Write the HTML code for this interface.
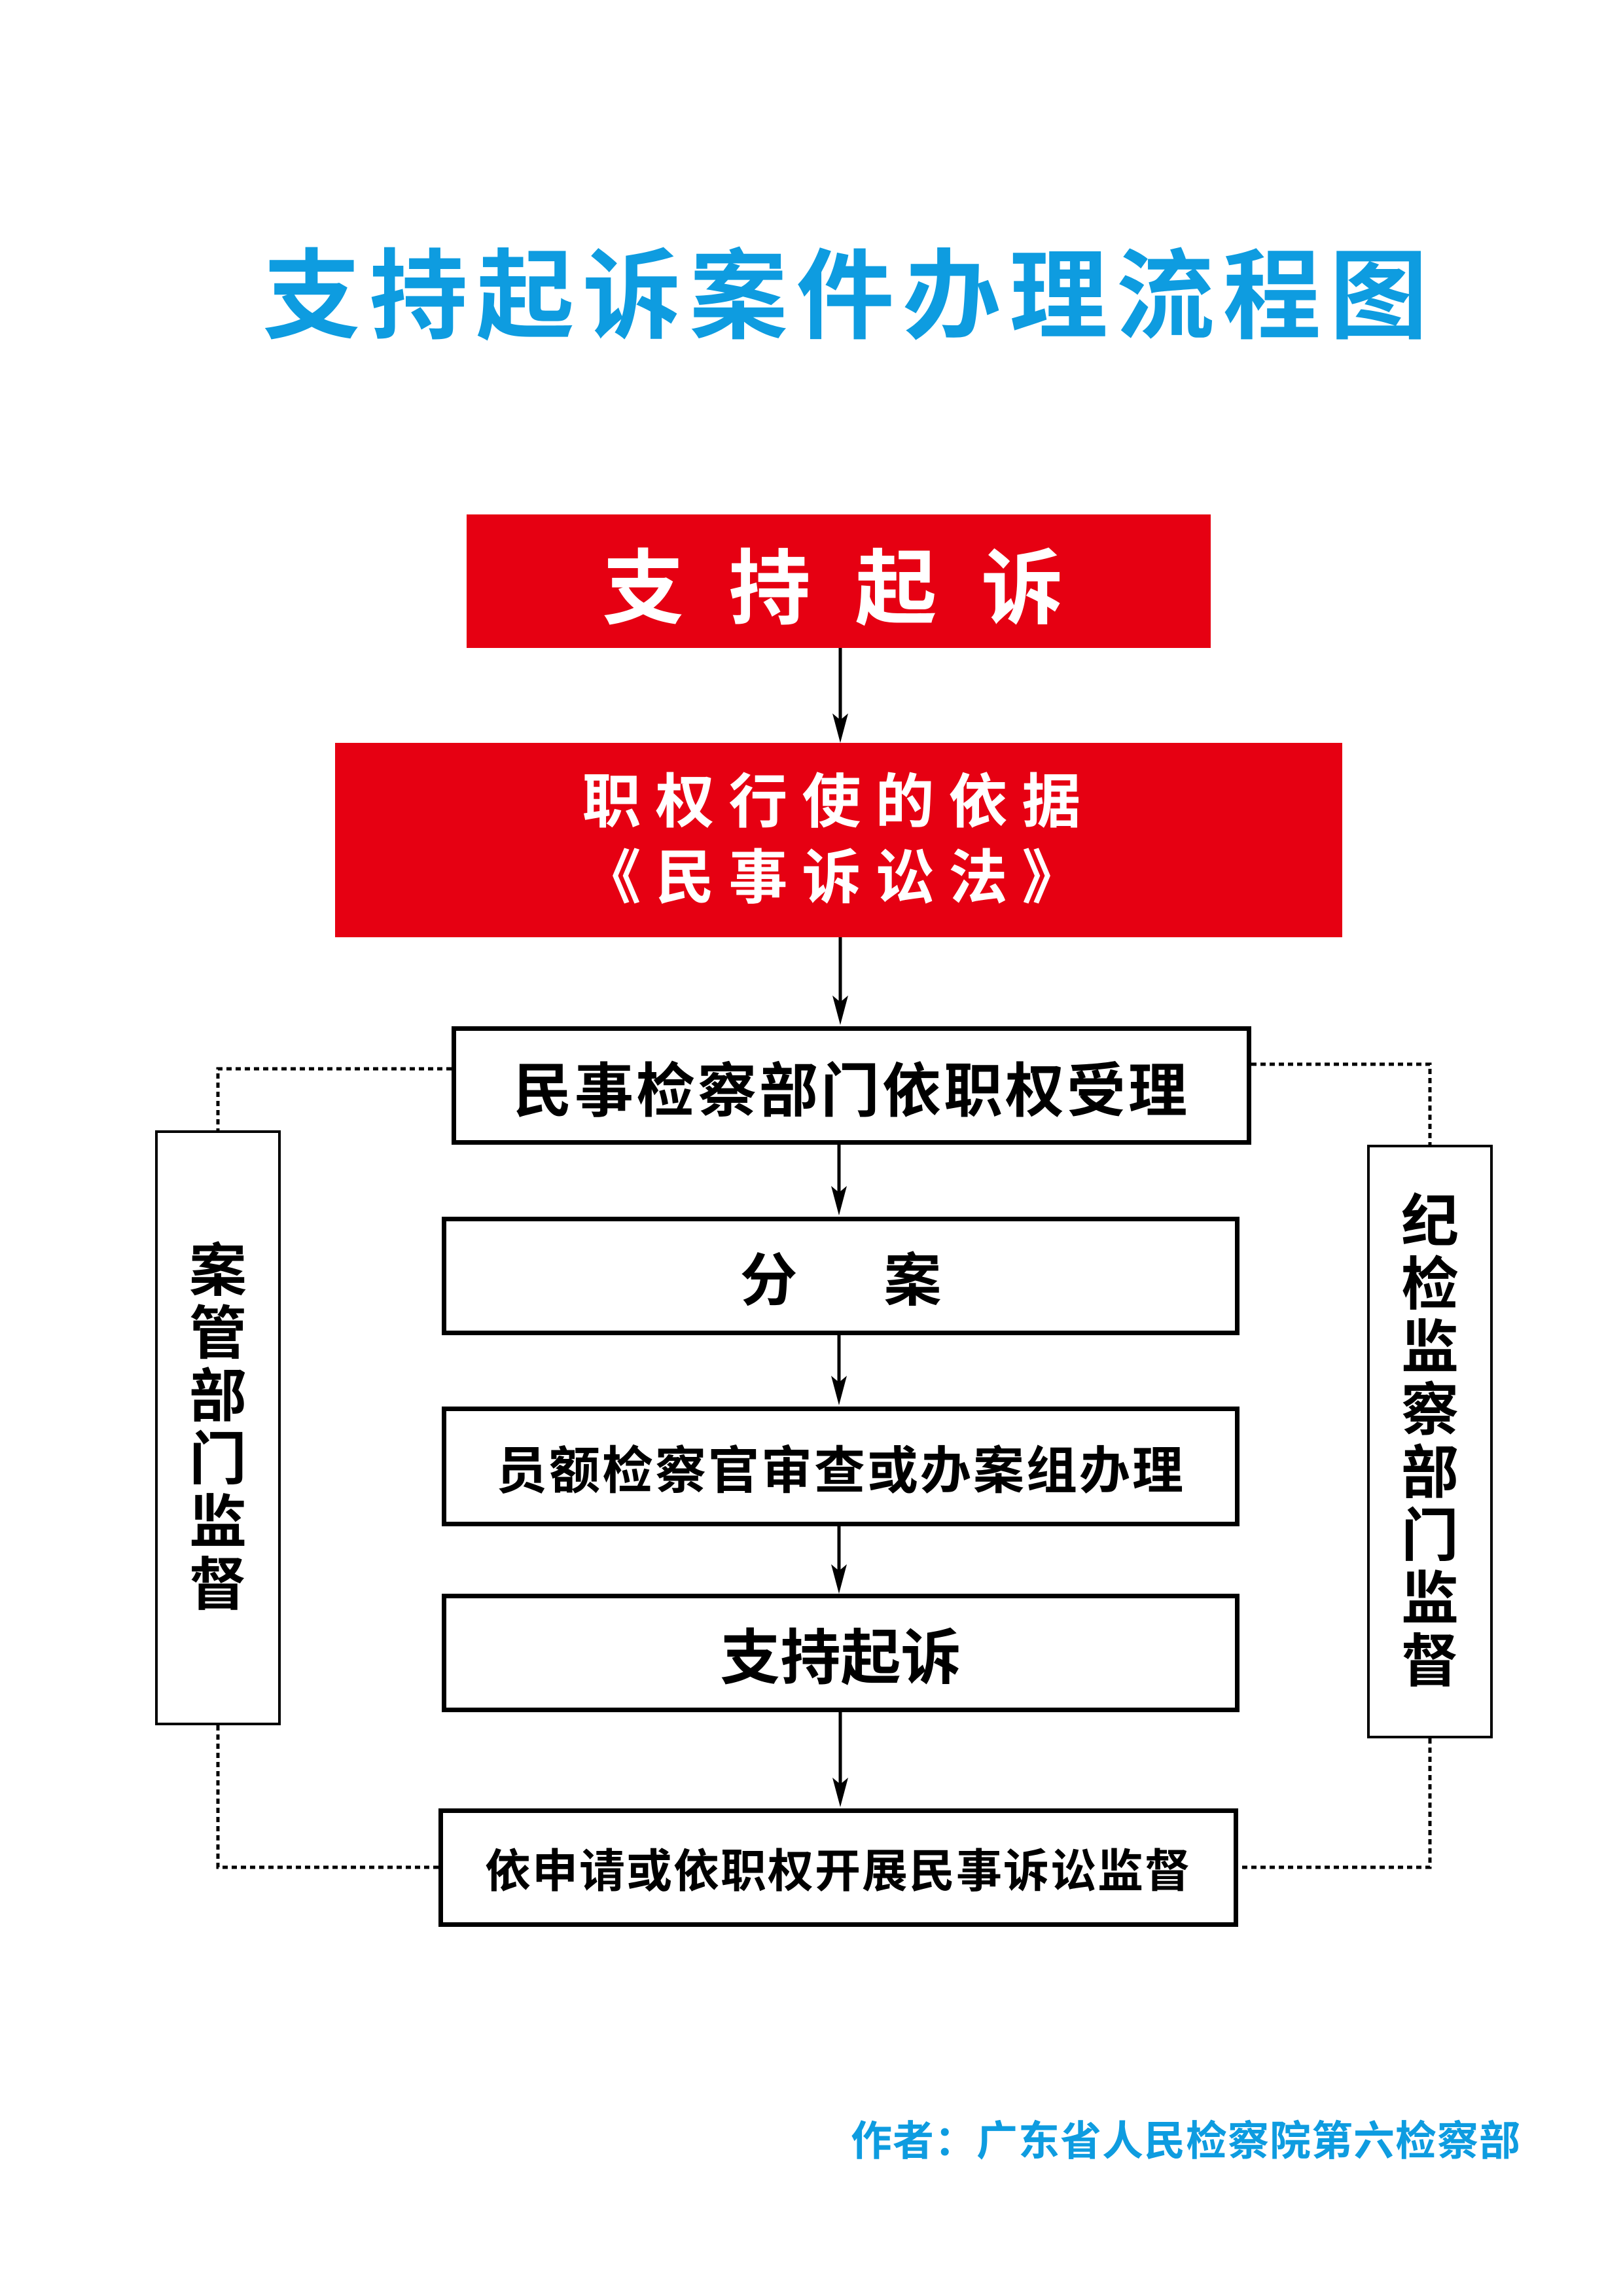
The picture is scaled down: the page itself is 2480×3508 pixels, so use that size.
<!DOCTYPE html>
<html><head><meta charset="utf-8"><style>
html,body{margin:0;padding:0;background:#fff}
body{width:2480px;height:3508px;position:relative;overflow:hidden;font-family:"Liberation Sans","Noto Sans CJK SC",sans-serif;font-weight:bold}
.a{position:absolute;box-sizing:border-box;display:flex;align-items:center;justify-content:center;text-align:center;white-space:nowrap}
.red{background:#e60012;color:#fff}
.bx{border:7px solid #000;background:#fff;color:#000}
.vb{border:4px solid #000;background:#fff;color:#000;flex-direction:column;justify-content:center}
</style></head><body>
<svg width="2480" height="3508" style="position:absolute;left:0;top:0">
<g stroke="#000" stroke-width="5" fill="none">
<line x1="1284" y1="990" x2="1284" y2="1110"/>
<line x1="1284" y1="1432" x2="1284" y2="1540"/>
<line x1="1282" y1="1749" x2="1282" y2="1830"/>
<line x1="1282" y1="2040" x2="1282" y2="2120"/>
<line x1="1282" y1="2332" x2="1282" y2="2410"/>
<line x1="1284" y1="2616" x2="1284" y2="2735"/>
</g>
<g fill="#000">
<path d="M1272,1090 L1284,1100 L1296,1090 L1284,1135 Z"/>
<path d="M1272,1521 L1284,1531 L1296,1521 L1284,1566 Z"/>
<path d="M1270,1812 L1282,1822 L1294,1812 L1282,1857 Z"/>
<path d="M1270,2102 L1282,2112 L1294,2102 L1282,2147 Z"/>
<path d="M1270,2390 L1282,2400 L1294,2390 L1282,2435 Z"/>
<path d="M1272,2716 L1284,2726 L1296,2716 L1284,2761 Z"/>
</g>
<g stroke="#000" stroke-width="5" fill="none" stroke-dasharray="8,6">
<polyline points="690,1633 333,1633 333,1727"/>
<polyline points="333,2636 333,2853 670,2853"/>
<polyline points="1912,1626 2185,1626 2185,1749"/>
<polyline points="2185,2656 2185,2853 1892,2853"/>
</g>
</svg>
<div class="a" style="left:398px;top:360px;width:1800px;height:160px;color:#0e9ce0;font-size:150px;letter-spacing:13px">支持起诉案件办理流程图</div>
<div class="a red" style="left:713px;top:786px;width:1137px;height:204px;font-size:125px;letter-spacing:68px;padding-left:50px">支持起诉</div>
<div class="a red" style="left:512px;top:1135px;width:1539px;height:297px;font-size:90px;letter-spacing:22px;line-height:116px;flex-direction:column">
<div>职权行使的依据</div><div>《民事诉讼法》</div></div>
<div class="a bx" style="left:690px;top:1568px;width:1222px;height:181px;font-size:90px;letter-spacing:4px">民事检察部门依职权受理</div>
<div class="a bx" style="left:675px;top:1859px;width:1219px;height:181px;font-size:88px">分&emsp;&ensp;案</div>
<div class="a bx" style="left:675px;top:2149px;width:1219px;height:183px;font-size:78px;letter-spacing:3px">员额检察官审查或办案组办理</div>
<div class="a bx" style="left:675px;top:2435px;width:1219px;height:181px;font-size:92px">支持起诉</div>
<div class="a bx" style="left:670px;top:2763px;width:1222px;height:181px;font-size:70px;letter-spacing:2px">依申请或依职权开展民事诉讼监督</div>
<div class="a vb" style="left:237px;top:1727px;width:192px;height:909px;font-size:88px;line-height:96px"><div>案<br>管<br>部<br>门<br>监<br>督</div></div>
<div class="a vb" style="left:2089px;top:1749px;width:192px;height:907px;font-size:88px;line-height:96px"><div>纪<br>检<br>监<br>察<br>部<br>门<br>监<br>督</div></div>
<div class="a" style="left:1300px;top:3226px;width:1030px;height:80px;color:#0e9ce0;font-size:63px;letter-spacing:1px;justify-content:flex-start">作者：广东省人民检察院第六检察部</div>
</body></html>
